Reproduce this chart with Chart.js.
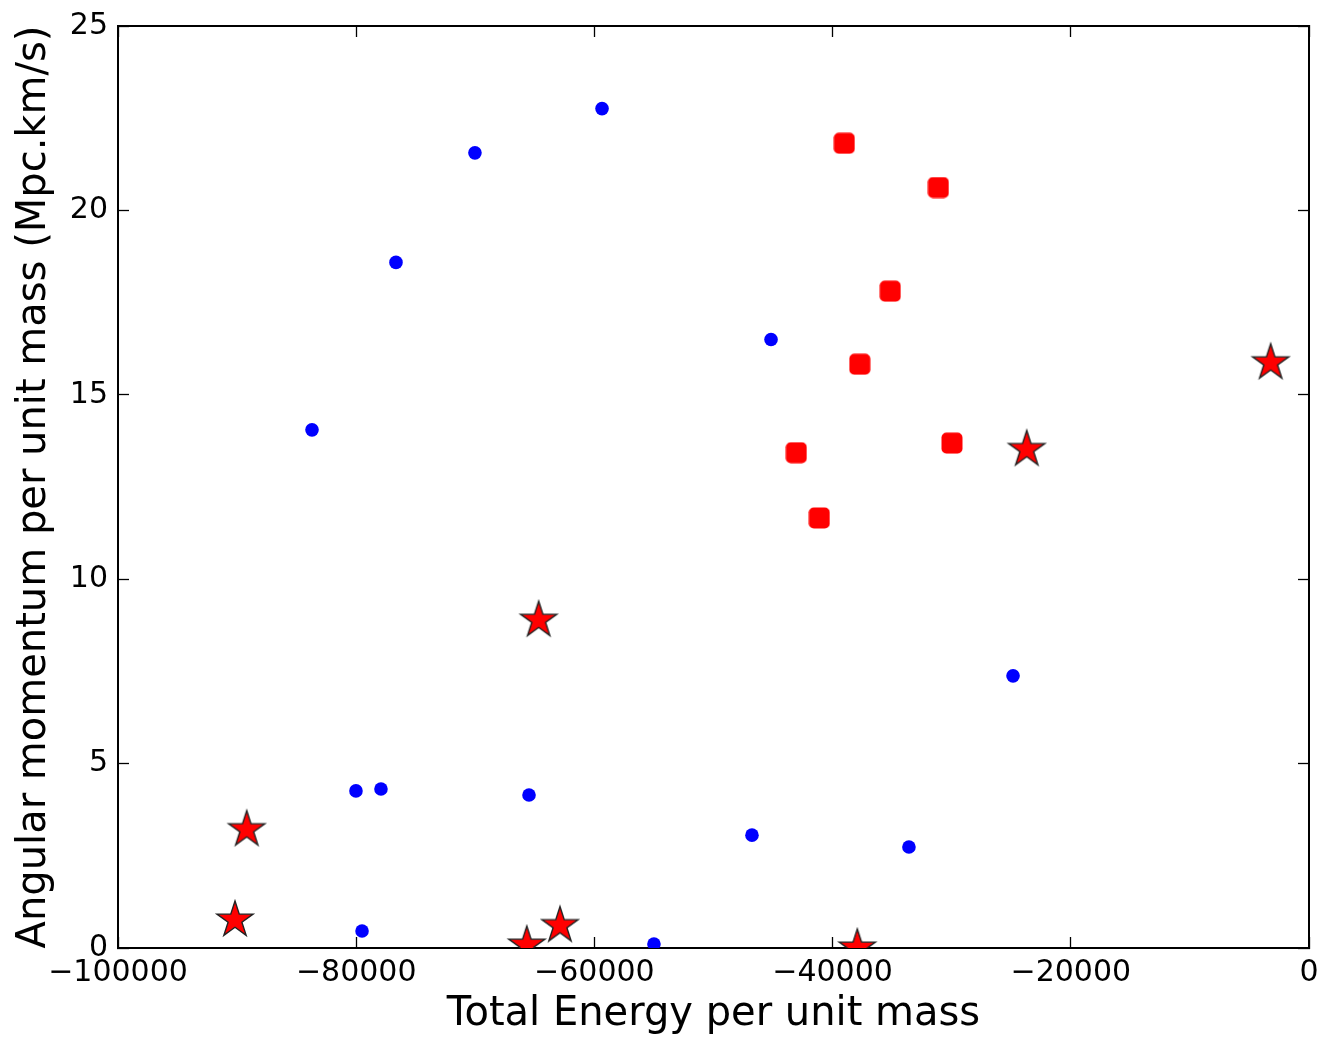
<!DOCTYPE html>
<html>
<head>
<meta charset="utf-8">
<script src="https://cdn.jsdelivr.net/npm/chart.js@4/dist/chart.umd.min.js"></script>
<style>html,body{margin:0;padding:0;background:#fff;overflow:hidden}canvas{display:block}</style>
</head>
<body>
<canvas id="c" width="1325" height="1040"></canvas>
<script>
// ---- data ----
const xTickLabels = ['\u2212100000', '\u221280000', '\u221260000', '\u221240000', '\u221220000', '0'];
const yTickLabels = ['0', '5', '10', '15', '20', '25'];
const xTitle = 'Total Energy per unit mass';
const yTitle = 'Angular momentum per unit mass (Mpc.km/s)';

// blue dots
const dotX = [-59360, -70030, -76660, -45170, -83710, -24850, -80020, -77920, -65490, -46770, -33590, -79510, -55000];
const dotY = [22.76, 21.56, 18.59, 16.50, 14.05, 7.38, 4.26, 4.31, 4.15, 3.06, 2.74, 0.46, 0.11];

// red rounded squares
const squareX = [-39020, -31120, -35160, -37720, -43050, -29980, -41120];
const squareY = [21.82, 20.62, 17.81, 15.83, 13.43, 13.69, 11.66];

// red stars
const starX = [-3220, -23700, -64680, -89190, -90180, -65680, -62890, -37930];
const starY = [15.87, 13.52, 8.89, 3.21, 0.76, 0.08, 0.61, 0.0];

// ---- marker glyphs ----
function makeStar(R, r, fill, stroke, lw) {
  const size = 44;
  const c = document.createElement('canvas');
  c.width = size; c.height = size;
  const g = c.getContext('2d');
  const cx = size / 2, cy = size / 2;
  g.beginPath();
  for (let i = 0; i < 10; i++) {
    const rad = i % 2 === 0 ? R : r;
    const a = -Math.PI / 2 + i * Math.PI / 5;
    const px = cx + rad * Math.cos(a), py = cy + rad * Math.sin(a);
    if (i === 0) g.moveTo(px, py); else g.lineTo(px, py);
  }
  g.closePath();
  g.fillStyle = fill; g.fill();
  g.lineWidth = lw; g.strokeStyle = stroke; g.lineJoin = 'miter'; g.stroke();
  return c;
}
function makeRoundSquare(side, corner, fill) {
  const size = 22;
  const c = document.createElement('canvas');
  c.width = size; c.height = size;
  const g = c.getContext('2d');
  const o = (size - side) / 2;
  g.beginPath();
  g.roundRect(o, o, side, side, corner);
  g.fillStyle = fill; g.fill();
  return c;
}
const starImg = makeStar(19, 19 * 0.381966, '#ff0000', '#222222', 1.4);
const squareImg = makeRoundSquare(21, 5, '#ff0000');

function pts(xs, ys) { return xs.map((x, i) => ({x: x, y: ys[i]})); }

const FONT = "'DejaVu Sans', sans-serif";
const tickLen = 11;

function noPad(s) { s.paddingLeft = 0; s.paddingRight = 0; s.paddingTop = 0; s.paddingBottom = 0; }
function fixW(w) { return function(s) { s.width = w; noPad(s); }; }
function fixH(h) { return function(s) { s.height = h; noPad(s); }; }

const gridOpts = {
  display: true, drawOnChartArea: false, drawTicks: true,
  tickLength: -tickLen, tickWidth: 1.3, tickColor: '#000', color: '#000'
};
const borderOpts = {display: true, color: '#000', width: 2};

new Chart(document.getElementById('c'), {
  type: 'scatter',
  data: {
    datasets: [
      {data: pts(dotX, dotY), pointStyle: 'circle', pointRadius: 6.8, pointBorderWidth: 0,
       backgroundColor: '#0000ff', borderColor: '#0000ff', clip: 0},
      {data: pts(squareX, squareY), pointStyle: squareImg, pointRadius: 11,
       backgroundColor: '#ff0000', borderColor: '#ff0000', clip: 0},
      {data: pts(starX, starY), pointStyle: starImg, pointRadius: 20,
       backgroundColor: '#ff0000', borderColor: '#222', clip: 0}
    ]
  },
  options: {
    responsive: false,
    animation: false,
    devicePixelRatio: 1,
    events: [],
    layout: {padding: 0, autoPadding: false},
    plugins: {legend: {display: false}, tooltip: {enabled: false}},
    scales: {
      x: {
        type: 'linear', position: 'bottom', min: -100000, max: 0, z: 1,
        afterFit: fixH(92),
        grid: gridOpts, border: borderOpts,
        ticks: {stepSize: 20000, autoSkip: false, maxRotation: 0, padding: 18, color: '#000',
                font: {family: FONT, size: 30},
                callback: (v, i) => xTickLabels[i]},
        title: {display: true, text: xTitle, color: '#000', font: {family: FONT, size: 40},
                padding: {top: 0, bottom: 1}}
      },
      x2: {
        type: 'linear', position: 'top', min: -100000, max: 0, z: 1,
        afterFit: fixH(26),
        grid: gridOpts, border: borderOpts,
        ticks: {stepSize: 20000, display: false}
      },
      y: {
        type: 'linear', position: 'left', min: 0, max: 25, z: 1,
        afterFit: fixW(118),
        grid: gridOpts, border: borderOpts,
        ticks: {stepSize: 5, autoSkip: false, padding: 21, color: '#000',
                font: {family: FONT, size: 30},
                callback: (v, i) => yTickLabels[i]},
        title: {display: true, text: yTitle, color: '#000', font: {family: FONT, size: 40},
                padding: {top: 11, bottom: 0}}
      },
      y2: {
        type: 'linear', position: 'right', min: 0, max: 25, z: 1,
        afterFit: fixW(16),
        grid: gridOpts, border: borderOpts,
        ticks: {stepSize: 5, display: false}
      }
    }
  }
});
</script>
</body>
</html>
